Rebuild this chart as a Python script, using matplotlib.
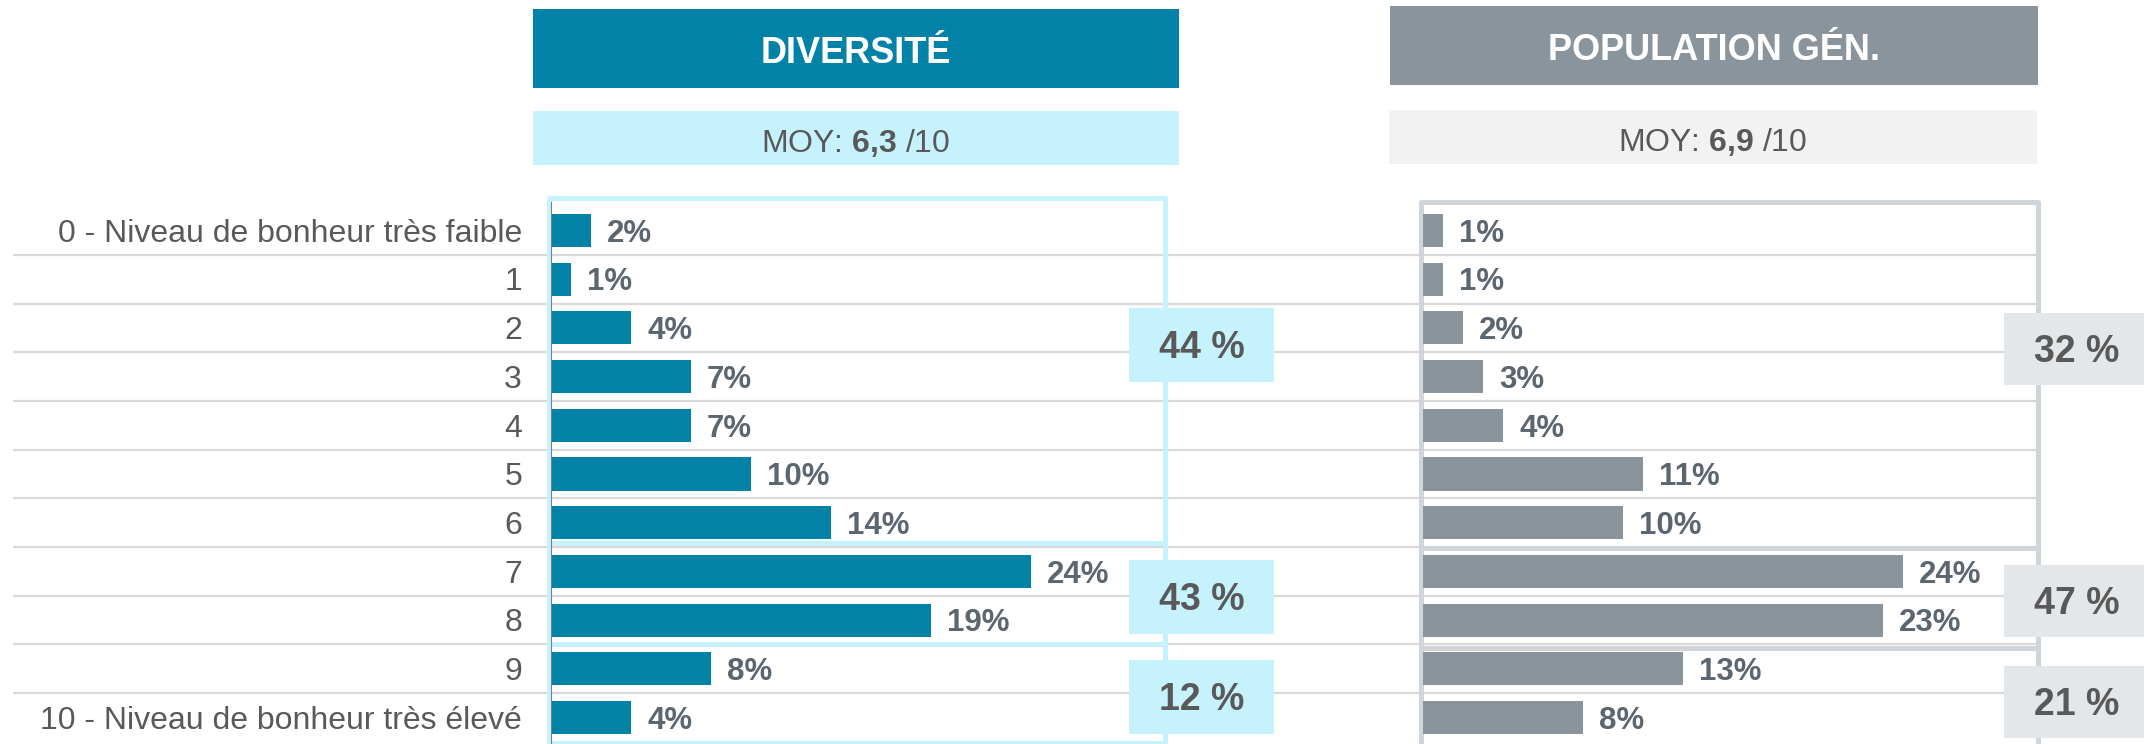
import numpy as np
import matplotlib
matplotlib.use('Agg')
import matplotlib.pyplot as plt
from matplotlib.patches import Rectangle

plt.rcParams['font.family'] = ['Liberation Sans', 'DejaVu Sans']
plt.rcParams['mathtext.fontset'] = 'custom'
plt.rcParams['mathtext.rm'] = 'Liberation Sans'
plt.rcParams['mathtext.bf'] = 'Liberation Sans:bold'

niveaux = ['0 - Niveau de bonheur très faible', '1', '2', '3', '4', '5', '6', '7', '8', '9',
           '10 - Niveau de bonheur très élevé']
diversite = [2, 1, 4, 7, 7, 10, 14, 24, 19, 8, 4]
population = [1, 1, 2, 3, 4, 11, 10, 24, 23, 13, 8]
diversite_totaux = [44, 43, 12]
population_totaux = [32, 47, 21]
titres = ['DIVERSITÉ', 'POPULATION GÉN.']
moyennes = ['6,3', '6,9']

W, H = 2144, 744
ROW0, ROW = 230.5, 48.7      # centre of first row and row pitch, in pixels
PX_PCT = 20.0                # pixels per percent


def row(y):
    return (y - ROW0) / ROW


fig = plt.figure(figsize=(W / 100, H / 100), dpi=100)

# background layer in pixel units: separators, headers, frames, totals
bg = fig.add_axes([0, 0, 1, 1], zorder=0)
bg.set_xlim(0, W)
bg.set_ylim(H, 0)
bg.axis('off')

seps = ROW0 + ROW * (np.arange(len(niveaux) - 1) + 0.5)
bg.hlines(seps, 13, 2037, color='#d9d9d9', lw=1.6, zorder=1)

for i, lab in enumerate(niveaux):
    bg.text(522, ROW0 + ROW * i + 11.3, lab, ha='right', va='baseline',
            fontsize=23, color='#595959')

panels = [
    dict(values=diversite, totals=diversite_totaux, dark='#0282a6', light='#c6f2fe',
         moy_bg='#c6f2fe', frame='#c6f2fe', box='#c6f2fe', axis='#7f7f7f',
         head=(533, 1179, 9, 88), moyb=(533, 1179, 111, 165),
         frame_x=(548.5, 1164.5), bar0=551, edges=[198, 543, 643.5, 743],
         box_x=1129, box_c=[345, 596.5, 696.5], box_h=74),
    dict(values=population, totals=population_totaux, dark='#8a949c', light='#e4e7ea',
         moy_bg='#f2f2f2', frame='#d0d5da', box='#e4e7ea', axis=None,
         head=(1390, 2038, 6, 85), moyb=(1389, 2037, 110, 164),
         frame_x=(1421, 2037.5), bar0=1423, edges=[202, 548, 647.5, 748],
         box_x=2004, box_c=[349, 600.5, 701.5], box_h=72),
]

for p, titre, moy in zip(panels, titres, moyennes):
    x0, x1, y0, y1 = p['head']
    bg.add_patch(Rectangle((x0, y0), x1 - x0, y1 - y0, color=p['dark'], lw=0, zorder=2))
    bg.text((x0 + x1) / 2, y1 - 25, titre, ha='center', va='baseline',
            fontsize=26, weight='bold', color='white', zorder=3)

    x0, x1, y0, y1 = p['moyb']
    bg.add_patch(Rectangle((x0, y0), x1 - x0, y1 - y0, color=p['moy_bg'], lw=0, zorder=2))
    bg.text((x0 + x1) / 2, y1 - 13, r'MOY: $\mathbf{' + moy.replace(',', '{,}') + '}$ /10',
            ha='center', va='baseline', fontsize=23, color='#595959', zorder=3)

    # one frame per group of answers (0-6, 7-8, 9-10)
    fl, fr = p['frame_x']
    e = p['edges']
    for top, bot in zip(e[:-1], e[1:]):
        bg.add_patch(Rectangle((fl, top), fr - fl, bot - top, fill=False,
                               edgecolor=p['frame'], lw=3.6, joinstyle='round', zorder=4))

    for tot, yc in zip(p['totals'], p['box_c']):
        h = p['box_h']
        bg.add_patch(Rectangle((p['box_x'], yc - h / 2), 145, h, color=p['box'], lw=0, zorder=5))
        bg.text(p['box_x'] + 72.5, yc + 13.5, f'{tot} %', ha='center', va='baseline',
                fontsize=27, weight='bold', color='#595959', zorder=6)

    # bar panel
    ax = fig.add_axes([fl / W, 0, (fr - fl) / W, 1], zorder=1)
    ax.patch.set_alpha(0)
    ax.set_xlim((fl - p['bar0']) / PX_PCT, (fr - p['bar0']) / PX_PCT)
    ax.set_ylim(row(H), row(0))
    ax.axis('off')
    y = np.arange(len(p['values']))
    ax.barh(y, p['values'], height=0.68, color=p['dark'])
    for yi, v in zip(y, p['values']):
        ax.text(v + 0.8, yi + 11.3 / ROW, f'{v}%', ha='left', va='baseline',
                fontsize=22.5, weight='bold', color='#5b6670')
    if p['axis']:
        ax.plot([0, 0], [row(202), row(H)], color=p['axis'], lw=0.8)

fig.savefig('out.png', dpi=100)
